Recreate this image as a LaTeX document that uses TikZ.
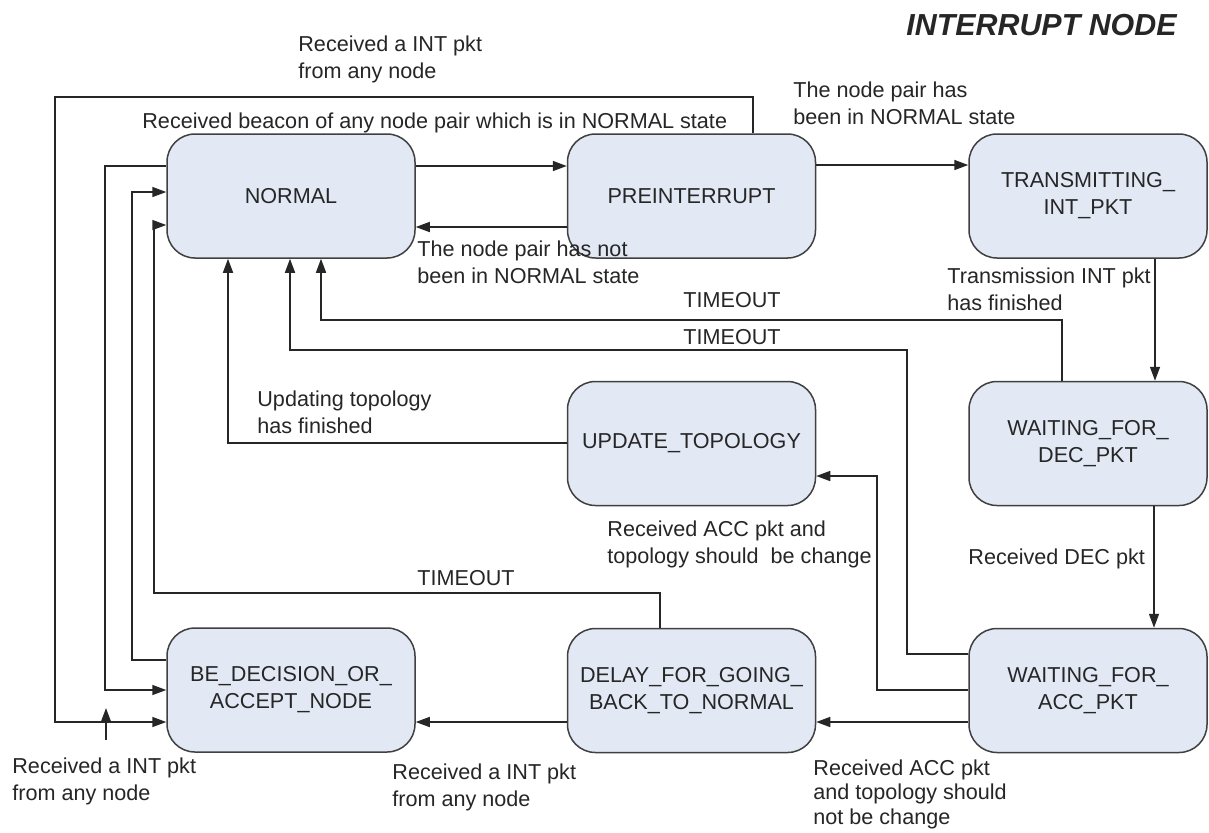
\documentclass[tikz,border=0pt]{standalone}
\usepackage{fontspec}
\setmainfont{Liberation Sans}
\usetikzlibrary{arrows.meta}
\definecolor{statefill}{RGB}{226,232,244}
\definecolor{stateline}{RGB}{64,64,64}
\definecolor{ink}{RGB}{38,38,38}
\begin{document}
\begin{tikzpicture}[x=0.5pt,y=-0.5pt,
  every node/.style={font=\fontsize{10.8}{13.5}\selectfont, text=ink},
  state/.style={draw=stateline, fill=statefill, line width=0.75pt,
    rounded corners=14pt, minimum width=124pt, minimum height=62pt,
    align=center, inner sep=2pt},
  narrow/.style={minimum width=119pt},
  link/.style={draw=ink, line width=0.8pt, -{Triangle[length=7pt,width=5pt]}},
  lbl/.style={anchor=north west, inner sep=0pt, align=left}]
\useasboundingbox (0,0) rectangle (1209,832);
\fill[white] (0,0) rectangle (1209,832);

% states
\node[state] (normal) at (291,196) {NORMAL};
\node[state] (pre)    at (691.5,196) {PREINTERRUPT};
\node[state,narrow] (trans) at (1088,196) {TRANSMITTING\_\\INT\_PKT};
\node[state] (update) at (691.5,443.5) {UPDATE\_TOPOLOGY};
\node[state,narrow] (dec) at (1088,443.5) {WAITING\_FOR\_\\DEC\_PKT};
\node[state] (be)     at (291,690) {BE\_DECISION\_OR\_\\ACCEPT\_NODE};
\node[state] (delay)  at (691.5,690.5) {DELAY\_FOR\_GOING\_\\BACK\_TO\_NORMAL};
\node[state,narrow] (acc) at (1088,690.5) {WAITING\_FOR\_\\ACC\_PKT};

% title
\node[anchor=east, inner sep=0pt, font=\fontsize{15.2}{18}\selectfont\bfseries\itshape] (title) at (1177,25) {INTERRUPT NODE};

% transitions
\draw[link] (normal.east |- 0,166) -- (pre.west |- 0,166);
\draw[link] (pre.west |- 0,227) -- (normal.east |- 0,227);
\draw[link] (pre.east |- 0,165) -- (trans.west |- 0,165);
\draw[link] (pre.north -| 753,0) |- (55,97) |- (be.west |- 0,722);
\draw[link] (normal.west |- 0,166) -| (105,690) -- (be.west |- 0,690);
\draw[link] (be.west |- 0,660) -| (132,192) -- (normal.west |- 0,192);
\draw[link] (delay.north -| 660,0) |- (154,593) |- (normal.west |- 0,225);
\draw[link] (update.west |- 0,443) -| (normal.south -| 228,0);
\draw[link] (acc.west |- 0,654) -| (907,350) -| (normal.south -| 290,0);
\draw[link] (dec.north -| 1062,0) |- (321,320) -- (normal.south -| 321,0);
\draw[link] (trans.south -| 1155,0) -- (dec.north -| 1155,0);
\draw[link] (dec.south -| 1154,0) -- (acc.north -| 1154,0);
\draw[link] (acc.west |- 0,690) -| (877,476) -- (update.east |- 0,476);
\draw[link] (acc.west |- 0,722) -- (delay.east |- 0,722);
\draw[link] (delay.west |- 0,722) -- (be.east |- 0,722);
\coordinate (intail) at (106,740);
\coordinate (inhead) at (106,708);
\draw[link] (intail) -- (inhead);

% transition labels
\node[lbl] (l1)  at (298,35)  {Received a INT pkt\\from any node};
\node[lbl] (l2)  at (142,112) {Received beacon of any node pair which is in NORMAL state};
\node[lbl] (l3)  at (417,240) {The node pair has not\\been in NORMAL state};
\node[lbl] (l4)  at (793,81)  {The node pair has\\been in NORMAL state};
\node[lbl] (l5)  at (947,267) {Transmission INT pkt\\has finished};
\node[lbl] (l6)  at (683,292) {TIMEOUT};
\node[lbl] (l7)  at (683,329) {TIMEOUT};
\node[lbl] (l8)  at (257,390) {Updating topology\\has finished};
\node[lbl] (l9)  at (607,520) {Received ACC pkt and\\topology should\ \ be change};
\node[lbl] (l10) at (968,548) {Received DEC pkt};
\node[lbl] (l11) at (417,570) {TIMEOUT};
\node[lbl] (l12) at (12,757)  {Received a INT pkt\\from any node};
\node[lbl] (l13) at (392,763) {Received a INT pkt\\from any node};
\node[lbl, font=\fontsize{10.8}{12.4}\selectfont] (l14) at (813,759) {Received ACC pkt\\and topology should\\not be change};
\end{tikzpicture}
\end{document}
